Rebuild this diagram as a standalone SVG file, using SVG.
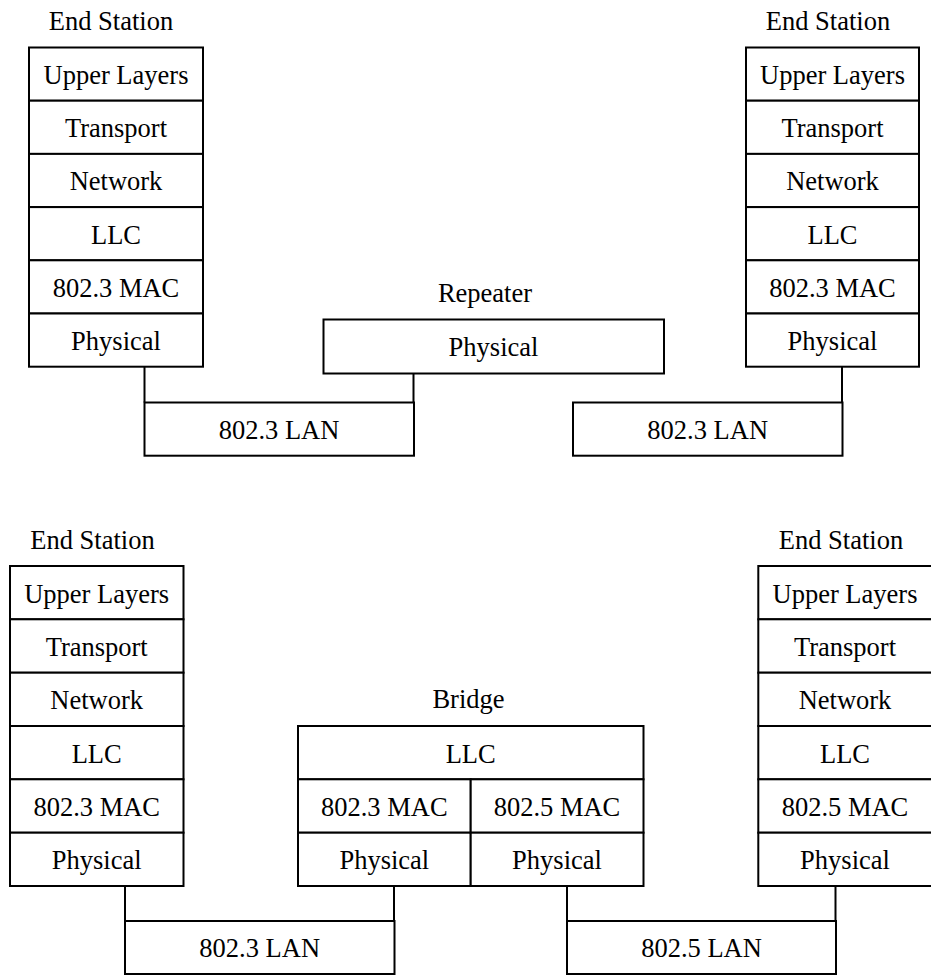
<svg xmlns="http://www.w3.org/2000/svg" width="931" height="980" viewBox="0 0 931 980">
<style>
rect{fill:#fff;stroke:#000;stroke-width:2}
line,path{fill:none;stroke:#000;stroke-width:2}
text{font-family:"Liberation Serif","Times New Roman",serif;font-size:26.5px;fill:#000;text-anchor:middle}
</style>
<rect x="0" y="0" width="931" height="980" style="stroke:none"/>
<g id="connectors">
<path d="M144.5 366.7V402.5"/>
<path d="M413.5 373.5V402.5"/>
<path d="M842 366.7V402.5"/>
<path d="M125 886V921"/>
<path d="M394 886V921"/>
<path d="M567 886V921"/>
<path d="M835.5 886V921"/>
</g>
<g id="es1">
<text x="111" y="30">End Station</text>
<rect x="29" y="47.5" width="174" height="53.2"/>
<rect x="29" y="100.7" width="174" height="53.2"/>
<rect x="29" y="153.9" width="174" height="53.2"/>
<rect x="29" y="207.1" width="174" height="53.2"/>
<rect x="29" y="260.3" width="174" height="53.2"/>
<rect x="29" y="313.5" width="174" height="53.2"/>
<text x="116" y="84">Upper Layers</text>
<text x="116" y="137.2">Transport</text>
<text x="116" y="190.4">Network</text>
<text x="116" y="243.6">LLC</text>
<text x="116" y="296.8">802.3 MAC</text>
<text x="116" y="350">Physical</text>
</g>
<g id="repeater">
<text x="485" y="302">Repeater</text>
<rect x="323.5" y="319.5" width="340.5" height="54"/>
<text x="493.5" y="355.5">Physical</text>
</g>
<g id="es2">
<text x="828" y="30">End Station</text>
<rect x="746" y="47.5" width="173" height="53.2"/>
<rect x="746" y="100.7" width="173" height="53.2"/>
<rect x="746" y="153.9" width="173" height="53.2"/>
<rect x="746" y="207.1" width="173" height="53.2"/>
<rect x="746" y="260.3" width="173" height="53.2"/>
<rect x="746" y="313.5" width="173" height="53.2"/>
<text x="832.5" y="84">Upper Layers</text>
<text x="832.5" y="137.2">Transport</text>
<text x="832.5" y="190.4">Network</text>
<text x="832.5" y="243.6">LLC</text>
<text x="832.5" y="296.8">802.3 MAC</text>
<text x="832.5" y="350">Physical</text>
</g>
<g id="lan1">
<rect x="144.5" y="402.5" width="269.5" height="53.2"/>
<text x="279" y="438.5">802.3 LAN</text>
</g>
<g id="lan2">
<rect x="573" y="402.5" width="269.5" height="53.2"/>
<text x="707.7" y="438.5">802.3 LAN</text>
</g>
<g id="es3">
<text x="92.5" y="548.5">End Station</text>
<rect x="10" y="566" width="173.5" height="53.3"/>
<rect x="10" y="619.3" width="173.5" height="53.4"/>
<rect x="10" y="672.7" width="173.5" height="53.3"/>
<rect x="10" y="726" width="173.5" height="53.3"/>
<rect x="10" y="779.3" width="173.5" height="53.4"/>
<rect x="10" y="832.7" width="173.5" height="53.3"/>
<text x="96.7" y="602.5">Upper Layers</text>
<text x="96.7" y="655.8">Transport</text>
<text x="96.7" y="709.2">Network</text>
<text x="96.7" y="762.5">LLC</text>
<text x="96.7" y="815.8">802.3 MAC</text>
<text x="96.7" y="869.2">Physical</text>
</g>
<g id="bridge">
<text x="468.5" y="707.5">Bridge</text>
<rect x="298" y="726" width="345.5" height="53.3"/>
<rect x="298" y="779.3" width="172.7" height="53.4"/>
<rect x="298" y="832.7" width="172.7" height="53.3"/>
<rect x="470.7" y="779.3" width="172.8" height="53.4"/>
<rect x="470.7" y="832.7" width="172.8" height="53.3"/>
<text x="470.7" y="762.5">LLC</text>
<text x="384.3" y="815.8">802.3 MAC</text>
<text x="384.3" y="869.2">Physical</text>
<text x="557" y="815.8">802.5 MAC</text>
<text x="557" y="869.2">Physical</text>
</g>
<g id="es4">
<text x="841" y="548.5">End Station</text>
<rect x="758.3" y="566" width="174" height="53.3"/>
<rect x="758.3" y="619.3" width="174" height="53.4"/>
<rect x="758.3" y="672.7" width="174" height="53.3"/>
<rect x="758.3" y="726" width="174" height="53.3"/>
<rect x="758.3" y="779.3" width="174" height="53.4"/>
<rect x="758.3" y="832.7" width="174" height="53.3"/>
<text x="845" y="602.5">Upper Layers</text>
<text x="845" y="655.8">Transport</text>
<text x="845" y="709.2">Network</text>
<text x="845" y="762.5">LLC</text>
<text x="845" y="815.8">802.5 MAC</text>
<text x="845" y="869.2">Physical</text>
</g>
<g id="lan3">
<rect x="125" y="921" width="269.5" height="53"/>
<text x="259.7" y="957">802.3 LAN</text>
</g>
<g id="lan4">
<rect x="567" y="921" width="269" height="53"/>
<text x="701.5" y="957">802.5 LAN</text>
</g>
</svg>
